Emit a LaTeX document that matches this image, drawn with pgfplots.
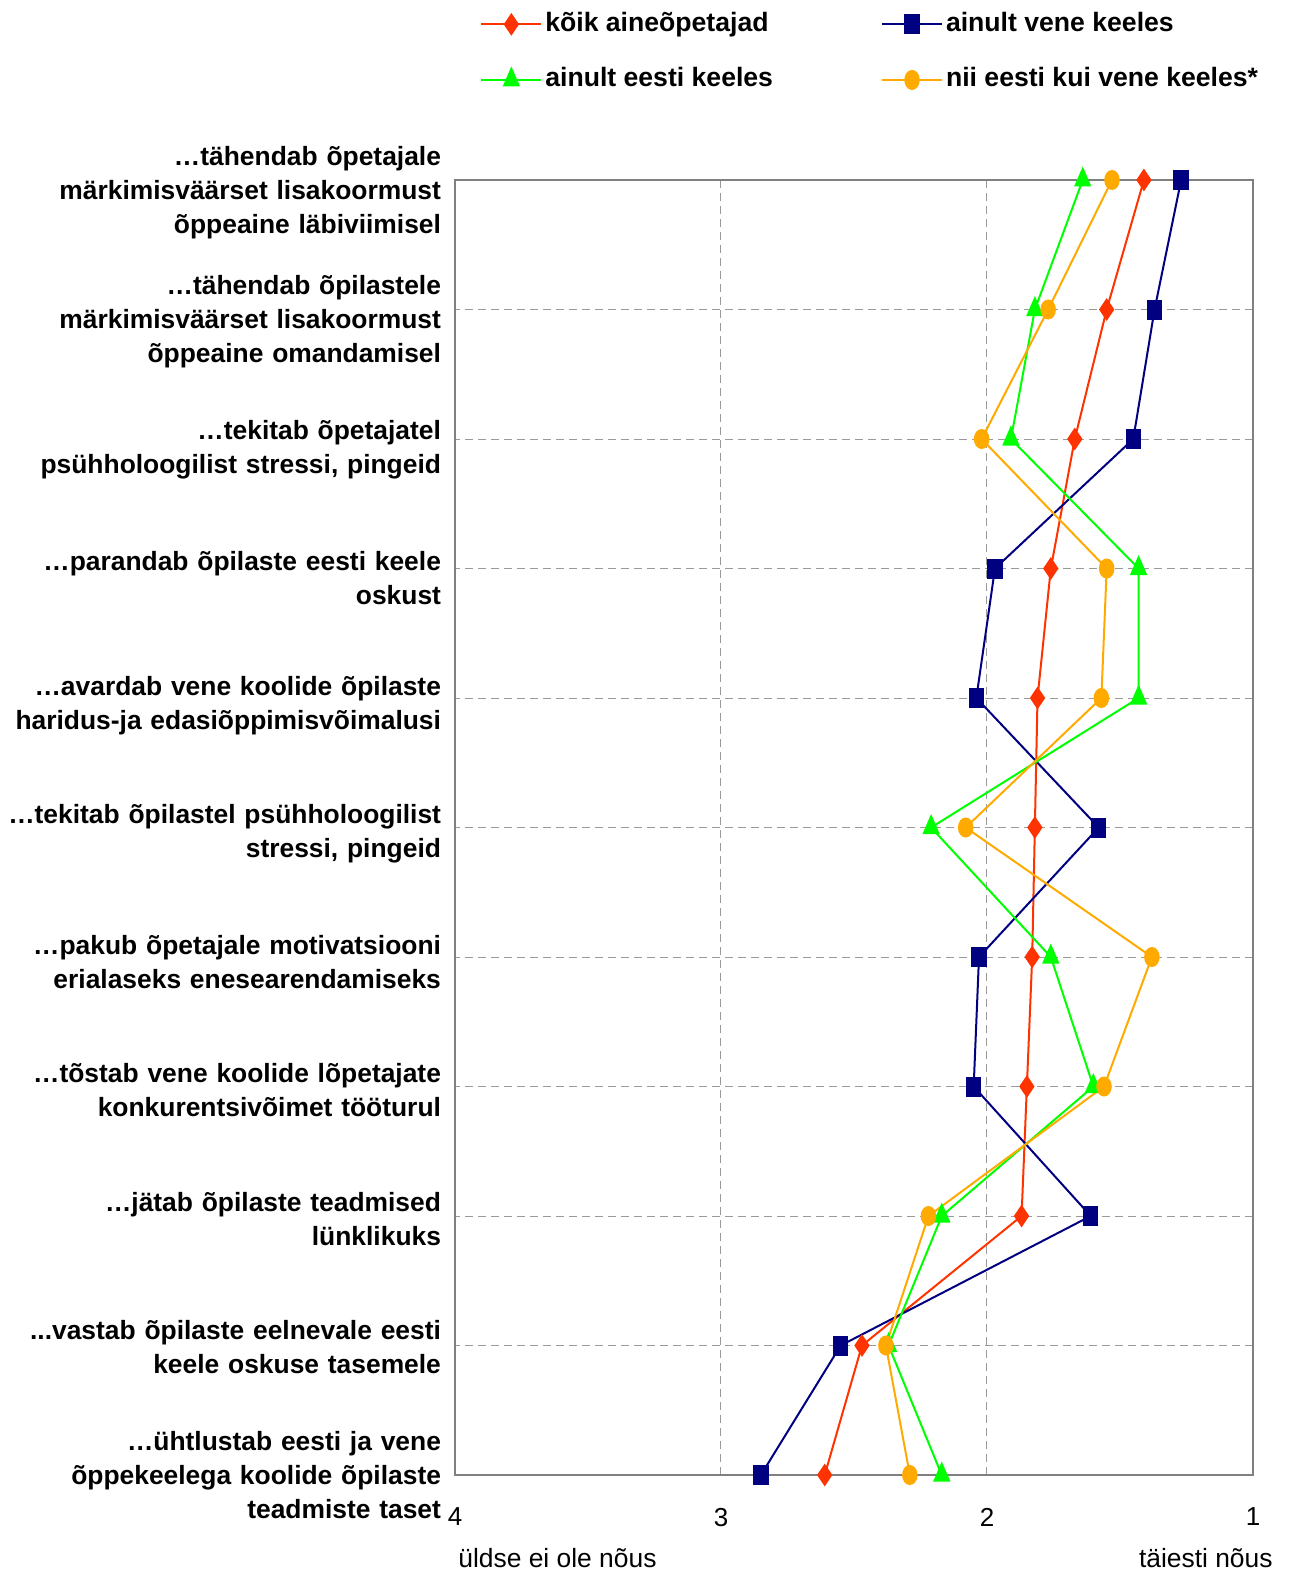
\documentclass[border=0pt]{standalone}
\usepackage{pgfplots}
\pgfplotsset{compat=1.18}
\usepackage{fontspec}
\setmainfont{Liberation Sans}
\definecolor{cRed}{HTML}{FF3300}
\definecolor{cBlue}{HTML}{000080}
\definecolor{cGreen}{HTML}{00FF00}
\definecolor{cOrange}{HTML}{FFAA00}
\definecolor{cAxis}{HTML}{808080}
\newcommand{\threedots}{.{}.{}.}
\begin{document}
\begin{tikzpicture}
\useasboundingbox (-227.5pt,-49pt) rectangle (420pt,737.5pt);
\begin{axis}[
  at={(0,0)}, anchor=south west,
  width=399pt, height=647.5pt, scale only axis,
  xmin=1, xmax=4, x dir=reverse,
  ymin=0, ymax=10, y dir=reverse,
  xtick={1,2,3,4}, ytick={0,1,2,3,4,5,6,7,8,9,10},
  axis line style={cAxis, line width=1.2pt},
  tick style={draw=none},
  xmajorgrids, ymajorgrids,
  major grid style={cAxis!80, line width=0.5pt, dash pattern=on 4pt off 2.5pt},
  /pgf/number format/assume math mode=true,
  xticklabel style={font=\fontsize{13}{15}\selectfont, inner sep=0pt, anchor=north, yshift=-16.3pt},
  yticklabel style={font=\fontsize{13.2}{17}\selectfont\bfseries, align=right, text width=220pt, inner sep=0pt, anchor=east, xshift=-6.8pt, yshift={-0.65pt*(10-\ticknum)}},
  yticklabels={
    {…tähendab õpetajale\\märkimisväärset lisakoormust\\õppeaine läbiviimisel},
    {…tähendab õpilastele\\märkimisväärset lisakoormust\\õppeaine omandamisel},
    {…tekitab õpetajatel\\psühholoogilist stressi, pingeid},
    {…parandab õpilaste eesti keele\\oskust},
    {…avardab vene koolide õpilaste\\haridus-ja edasiõppimisvõimalusi},
    {…tekitab õpilastel psühholoogilist\\stressi, pingeid},
    {…pakub õpetajale motivatsiooni\\erialaseks enesearendamiseks},
    {…tõstab vene koolide lõpetajate\\konkurentsivõimet tööturul},
    {…jätab õpilaste teadmised\\lünklikuks},
    {\threedots vastab õpilaste eelnevale eesti\\keele oskuse tasemele},
    {…ühtlustab eesti ja vene\\õppekeelega koolide õpilaste\\teadmiste taset}
  },
  clip=false,
  legend columns=2,
  legend style={at={(0.0313,1.1300)}, anchor=north west, draw=none, fill=none,
    inner sep=0pt, column sep=0pt, row sep=15.5pt,
    font=\fontsize{13.3}{15}\selectfont\bfseries,
    nodes={inner sep=0pt, text height=9.5pt, text depth=2.8pt},
    /tikz/every odd column/.style={column sep=1.5pt},
    /tikz/every even column/.style={column sep=54pt}},
  legend cell align=left,
  legend image code/.code={\draw[mark repeat=2,mark phase=2,#1] plot coordinates {(0pt,0pt) (15pt,0pt) (30pt,0pt)};},
  every axis plot/.append style={line width=1pt},
]
\addplot[cRed, mark=diamond*, mark size=4.8pt, mark options={xscale=0.9, solid}] coordinates {
(1.41,0) (1.55,1) (1.67,2) (1.76,3) (1.81,4) (1.82,5) (1.83,6) (1.85,7) (1.87,8) (2.47,9) (2.61,10)};
\addlegendentry{kõik aineõpetajad}
\addplot[cBlue, mark=square*, mark size=4.5pt, mark options={xscale=0.75, solid}] coordinates {
(1.27,0) (1.37,1) (1.45,2) (1.97,3) (2.04,4) (1.58,5) (2.03,6) (2.05,7) (1.61,8) (2.55,9) (2.85,10)};
\addlegendentry{ainult vene keeles}
\addplot[cGreen, mark=triangle*, mark size=5.5pt, mark options={xscale=0.75, solid}] coordinates {
(1.64,0) (1.82,1) (1.91,2) (1.43,3) (1.43,4) (2.21,5) (1.76,6) (1.60,7) (2.17,8) (2.37,9) (2.17,10)};
\addlegendentry{ainult eesti keeles}
\addplot[cOrange, mark=*, mark size=4.5pt, mark options={xscale=0.75, solid}] coordinates {
(1.53,0) (1.77,1) (2.02,2) (1.55,3) (1.57,4) (2.08,5) (1.38,6) (1.56,7) (2.22,8) (2.38,9) (2.29,10)};
\addlegendentry{nii eesti kui vene keeles*}
\node[anchor=west, inner sep=0pt, font=\fontsize{13.2}{15}\selectfont] at (axis description cs:0,0) [xshift=1.5pt, yshift=-41.5pt] {üldse ei ole nõus};
\node[anchor=east, inner sep=0pt, font=\fontsize{13.2}{15}\selectfont] at (axis description cs:1,0) [xshift=10pt, yshift=-41.5pt] {täiesti nõus};
\end{axis}
\end{tikzpicture}
\end{document}
